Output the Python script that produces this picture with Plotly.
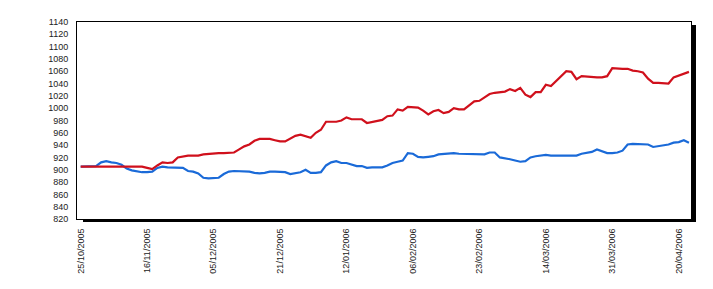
import plotly.graph_objects as go

# Tick labels shown on the category (trading-day) axis, one every 13 points
tick_labels = ["25/10/2005", "16/11/2005", "05/12/2005", "21/12/2005", "12/01/2006",
               "06/02/2006", "23/02/2006", "14/03/2006", "31/03/2006", "20/04/2006"]
tick_index = [0, 13, 26, 39, 52, 65, 78, 91, 104, 117]

red_values = [
    905, 905, 905, 905, 905, 905, 905, 905, 905, 905, 905, 905, 905, 903, 901, 907, 912, 911, 912, 920,
    922, 923, 923, 923, 925, 926, 927, 927, 927, 927, 928, 933, 938, 941, 947, 950, 950, 950, 948, 946,
    946, 950, 955, 957, 954, 952, 960, 965, 978, 978, 978, 980, 985, 982, 982, 982, 976, 978, 979, 981,
    987, 988, 998, 996, 1002, 1001, 1001, 996, 990, 995, 997, 992, 994, 1000, 998, 998, 1004, 1011, 1012, 1018,
    1023, 1025, 1026, 1027, 1031, 1028, 1033, 1022, 1018, 1026, 1026, 1038, 1036, 1044, 1052, 1060, 1059, 1047, 1052, 1051,
    1050, 1050, 1050, 1052, 1065, 1064, 1064, 1064, 1061, 1060, 1058, 1048, 1041, 1041, 1041, 1040, 1050, 1053, 1055, 1059,
]

blue_values = [
    905, 905, 905, 906, 912, 914, 912, 911, 908, 902, 899, 897, 896, 896, 897, 903, 905, 904, 904, 904,
    903, 898, 897, 894, 887, 886, 886, 887, 893, 897, 898, 898, 898, 897, 895, 894, 895, 897, 897, 896,
    896, 893, 895, 896, 900, 895, 895, 896, 907, 912, 914, 911, 911, 909, 906, 906, 903, 904, 904, 904,
    907, 911, 913, 915, 927, 926, 921, 920, 921, 922, 925, 926, 927, 927, 926, 926, 925, 926, 926, 925,
    928, 928, 920, 919, 917, 915, 913, 914, 920, 922, 923, 924, 923, 923, 923, 923, 923, 923, 926, 927,
    929, 933, 930, 927, 927, 928, 931, 941, 942, 942, 942, 941, 937, 938, 940, 941, 944, 945, 948, 944,
]

x_index = list(range(len(red_values)))

fig = go.Figure()
fig.add_trace(go.Scatter(x=x_index, y=blue_values, mode="lines",
                         line=dict(color="#1a6ad8", width=2.2), showlegend=False))
fig.add_trace(go.Scatter(x=x_index, y=red_values, mode="lines",
                         line=dict(color="#d0101c", width=2.2), showlegend=False))

# page body has an 8px default margin, so the figure is sized to the remaining area
fig_w, fig_h = 705, 281
m_l, m_t, m_r, m_b = 69, 14, 21.5, 70
plot_w = fig_w - m_l - m_r
plot_h = fig_h - m_t - m_b

fig.update_layout(
    width=fig_w, height=fig_h,
    margin=dict(l=m_l, r=m_r, t=m_t, b=m_b, pad=0),
    paper_bgcolor="white", plot_bgcolor="white",
    font=dict(family="Arial, Liberation Sans, sans-serif", size=9, color="#222222"),
    xaxis=dict(
        range=[-0.72, 119.4], tickmode="array", tickvals=tick_index, ticktext=tick_labels,
        tickangle=-90, showgrid=False, zeroline=False, automargin=False,
        showline=True, linecolor="black", linewidth=1, mirror=True,
        ticks="outside", ticklen=5, tickcolor="rgba(0,0,0,0)",
    ),
    yaxis=dict(
        range=[820, 1140], dtick=20, tick0=820, showgrid=False, zeroline=False, automargin=False,
        showline=True, linecolor="black", linewidth=1, mirror=True,
        ticks="outside", ticklen=6, tickcolor="rgba(0,0,0,0)",
    ),
    shapes=[
        dict(type="rect", xref="paper", yref="paper", line=dict(width=0), fillcolor="black",
             x0=1, x1=1 + 5 / plot_w, y0=-3 / plot_h, y1=1 - 3 / plot_h),
        dict(type="rect", xref="paper", yref="paper", line=dict(width=0), fillcolor="black",
             x0=6 / plot_w, x1=1 + 5 / plot_w, y0=-3 / plot_h, y1=0),
    ],
)

fig.write_html("out.html")
